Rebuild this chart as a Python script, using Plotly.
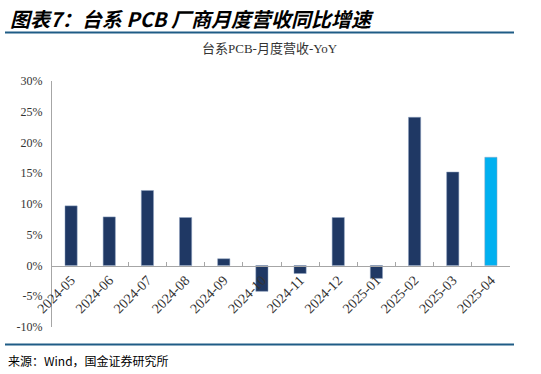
import plotly.graph_objects as go

categories = ["2024-05", "2024-06", "2024-07", "2024-08", "2024-09", "2024-10",
              "2024-11", "2024-12", "2025-01", "2025-02", "2025-03", "2025-04"]
yoy = [0.097, 0.079, 0.122, 0.078, 0.011, -0.042, -0.013, 0.078, -0.021, 0.241, 0.152, 0.176]
bar_colors = ["#1F3864"] * 11 + ["#00B0F0"]
y_ticks = [-0.10, -0.05, 0, 0.05, 0.10, 0.15, 0.20, 0.25, 0.30]
y_tick_labels = ["-10%", "-5%", "0%", "5%", "10%", "15%", "20%", "25%", "30%"]

serif = "Liberation Serif, Noto Sans CJK SC, serif"
cjk = "Noto Sans CJK SC"

fig = go.Figure()
fig.add_trace(go.Bar(
    x=categories, y=yoy,
    marker=dict(color=bar_colors, line=dict(color="#8FA3C0", width=0.5)),
    width=0.32,
))

L, R, T, B = 52, 31, 81, 47
W, H = 541, 374
pw, ph = W - L - R, H - T - B

def px_x(x):
    return (x - L) / pw

def px_y(y):
    return (H - B - y) / ph

fig.update_layout(
    width=W, height=H,
    margin=dict(l=L, r=R, t=T, b=B),
    paper_bgcolor="white", plot_bgcolor="white",
    showlegend=False,
    xaxis=dict(
        type="category",
        anchor="free", position=0.25,
        automargin=False,
        showline=True, linecolor="#A6A6A6", linewidth=1,
        ticks="inside", ticklen=4, tickcolor="#A6A6A6", tickson="boundaries",
        tickangle=-45,
        tickfont=dict(family=serif, size=14, color="#333333"),
        showgrid=False, zeroline=False,
    ),
    yaxis=dict(
        range=[-0.10, 0.30],
        automargin=False,
        tickvals=y_ticks, ticktext=y_tick_labels,
        showline=True, linecolor="#A6A6A6", linewidth=1,
        ticks="", showgrid=False, zeroline=False,
        ticklabelstandoff=6,
        tickfont=dict(family=serif, size=12, color="#333333"),
    ),
    annotations=[
        dict(text="<b><i>图表7：台系 PCB 厂商月度营收同比增速</i></b>",
             xref="paper", yref="paper", x=px_x(8), y=px_y(18),
             xanchor="left", yanchor="middle", showarrow=False,
             font=dict(family=cjk, size=20, color="#000000")),
        dict(text="台系PCB-月度营收-YoY",
             xref="paper", yref="paper", x=px_x(270), y=px_y(48),
             xanchor="center", yanchor="middle", showarrow=False,
             font=dict(family=serif, size=13, color="#333333")),
        dict(text="来源：Wind，国金证券研究所",
             xref="paper", yref="paper", x=px_x(6), y=px_y(360),
             xanchor="left", yanchor="middle", showarrow=False,
             font=dict(family=cjk, size=12, color="#000000")),
    ],
    shapes=[
        dict(type="line", xref="paper", yref="paper",
             x0=px_x(5), x1=px_x(514), y0=px_y(32.5), y1=px_y(32.5),
             line=dict(color="#1F5C86", width=2)),
        dict(type="line", xref="paper", yref="paper",
             x0=px_x(5), x1=px_x(514), y0=px_y(344.5), y1=px_y(344.5),
             line=dict(color="#1F5C86", width=2)),
    ],
)

fig.write_html("out.html",
               config={"displayModeBar": False},
               post_script="document.body.style.margin='0';document.body.style.overflow='hidden';")
